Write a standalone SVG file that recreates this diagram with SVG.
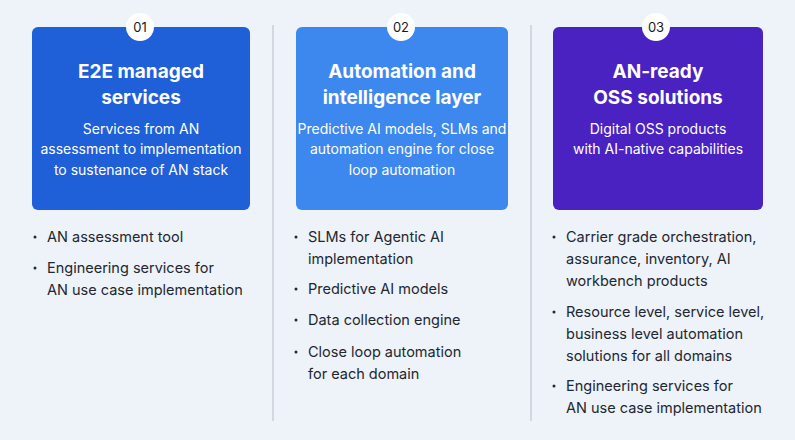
<svg xmlns="http://www.w3.org/2000/svg" width="795" height="440" viewBox="0 0 795 440">
<style>
.card{stroke:none}
.badge{fill:#ffffff}
.num{font-family:Inter,"Liberation Sans",sans-serif;font-size:13px;fill:#1a1a1a;text-anchor:middle}
.title{font-family:Inter,"Liberation Sans",sans-serif;font-size:19px;font-weight:700;fill:#ffffff;text-anchor:middle}
.sub{font-family:Inter,"Liberation Sans",sans-serif;font-size:14px;fill:#ffffff;text-anchor:middle}
.item{font-family:Inter,"Liberation Sans",sans-serif;font-size:14.5px;fill:#222730}
.dot{fill:#222730}
.div{stroke:#c9cfd9;stroke-width:1.5}
</style>
<rect width="795" height="440" fill="#eef2f9"/>
<g id="dividers">
<line class="div" x1="273" y1="25" x2="273" y2="421"/>
<line class="div" x1="531" y1="25" x2="531" y2="421"/>
</g>
<g id="card1">
<rect class="card" x="32" y="27" width="218" height="183" rx="6" fill="#1f5fd8"/>
<circle class="badge" cx="140" cy="27" r="14"/>
<text class="num" x="140" y="32">01</text>
<text class="title" x="141" y="78">E2E managed</text>
<text class="title" x="141" y="104">services</text>
<text class="sub" x="141" y="134">Services from AN</text>
<text class="sub" x="141" y="154">assessment to implementation</text>
<text class="sub" x="141" y="175">to sustenance of AN stack</text>
</g>
<g id="list1">
<circle class="dot" cx="35" cy="237" r="1.5"/>
<text class="item" x="47" y="242">AN assessment tool</text>
<circle class="dot" cx="35" cy="268" r="1.5"/>
<text class="item" x="47" y="273">Engineering services for</text>
<text class="item" x="47" y="295">AN use case implementation</text>
</g>
<g id="card2">
<rect class="card" x="296" y="27" width="212" height="183" rx="6" fill="#3d88ee"/>
<circle class="badge" cx="401" cy="27" r="14"/>
<text class="num" x="401" y="32">02</text>
<text class="title" x="402" y="78">Automation and</text>
<text class="title" x="402" y="104">intelligence layer</text>
<text class="sub" x="402" y="134">Predictive AI models, SLMs and</text>
<text class="sub" x="402" y="154">automation engine for close</text>
<text class="sub" x="402" y="175">loop automation</text>
</g>
<g id="list2">
<circle class="dot" cx="296" cy="237" r="1.5"/>
<text class="item" x="308" y="242">SLMs for Agentic AI</text>
<text class="item" x="308" y="264">implementation</text>
<circle class="dot" cx="296" cy="289" r="1.5"/>
<text class="item" x="308" y="294">Predictive AI models</text>
<circle class="dot" cx="296" cy="320" r="1.5"/>
<text class="item" x="308" y="325">Data collection engine</text>
<circle class="dot" cx="296" cy="352" r="1.5"/>
<text class="item" x="308" y="357">Close loop automation</text>
<text class="item" x="308" y="379">for each domain</text>
</g>
<g id="card3">
<rect class="card" x="553" y="27" width="210" height="183" rx="6" fill="#4a22c2"/>
<circle class="badge" cx="656" cy="27" r="14"/>
<text class="num" x="656" y="32">03</text>
<text class="title" x="658" y="78">AN-ready</text>
<text class="title" x="658" y="104">OSS solutions</text>
<text class="sub" x="658" y="134">Digital OSS products</text>
<text class="sub" x="658" y="154">with AI-native capabilities</text>
</g>
<g id="list3">
<circle class="dot" cx="554" cy="237" r="1.5"/>
<text class="item" x="566" y="242">Carrier grade orchestration,</text>
<text class="item" x="566" y="264">assurance, inventory, AI</text>
<text class="item" x="566" y="286">workbench products</text>
<circle class="dot" cx="554" cy="312" r="1.5"/>
<text class="item" x="566" y="317">Resource level, service level,</text>
<text class="item" x="566" y="339">business level automation</text>
<text class="item" x="566" y="361">solutions for all domains</text>
<circle class="dot" cx="554" cy="386" r="1.5"/>
<text class="item" x="566" y="391">Engineering services for</text>
<text class="item" x="566" y="413">AN use case implementation</text>
</g>
</svg>
